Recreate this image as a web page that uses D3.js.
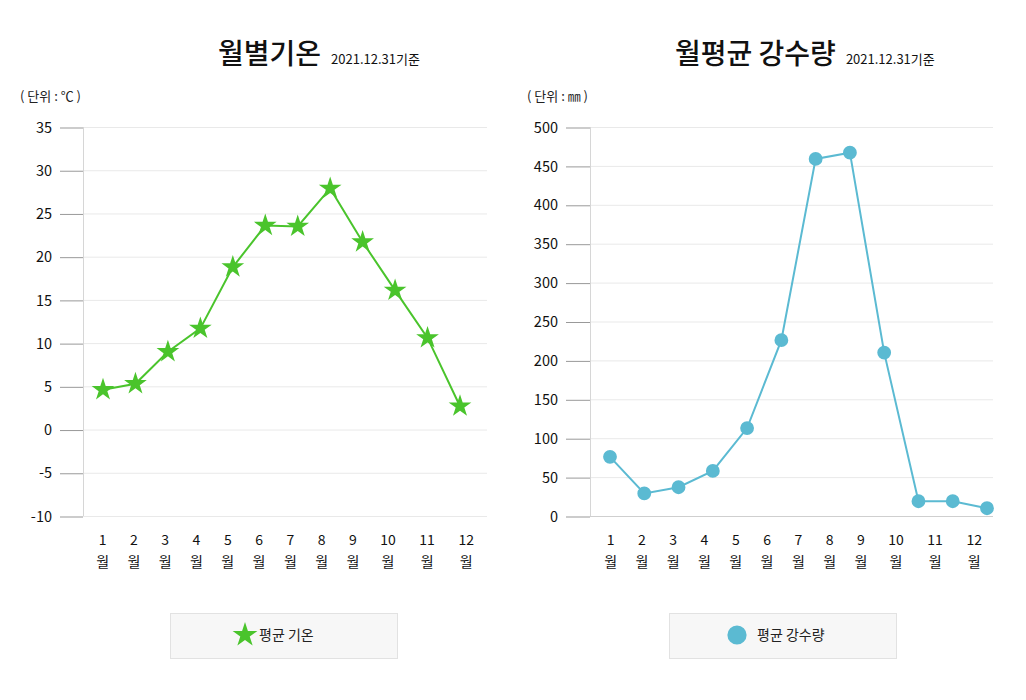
<!DOCTYPE html>
<html><head><meta charset="utf-8">
<script src="https://cdn.jsdelivr.net/npm/d3@7"></script>
<style>
html,body{margin:0;padding:0;background:#fff;}
svg text{font-family:"Noto Sans CJK KR","Noto Sans",sans-serif;}
</style></head>
<body><svg id="c" width="1026" height="700"></svg>
<script>
const months = ["1","2","3","4","5","6","7","8","9","10","11","12"];
const monthSuffix = "월";
const tempValues = [4.6, 5.3, 9.0, 11.7, 18.8, 23.6, 23.5, 27.9, 21.7, 16.1, 10.6, 2.7];
const rainValues = [76, 29, 37, 58, 113, 226, 459, 467, 210, 19, 19, 10];
const tempTicks = [35, 30, 25, 20, 15, 10, 5, 0, -5, -10];
const rainTicks = [500, 450, 400, 350, 300, 250, 200, 150, 100, 50, 0];
const titles = ["월별기온", "월평균 강수량"];
const subtitle = "2021.12.31기준";
const units = ["( 단위 : ℃ )", "( 단위 : ㎜ )"];
const legendNames = ["평균 기온", "평균 강수량"];

const svg = d3.select("#c");

function drawChart(opt){
  const g = svg.append("g");
  const y = d3.scaleLinear().domain(opt.domain).range([516, 127]);
  const x = d3.scaleLinear().domain([0, months.length-1]).range(opt.xRange);

  const t = g.append("text").attr("x", opt.titleX).attr("y", 64)
    .attr("font-size", 28).attr("font-weight", 500).attr("fill", "#111").text(opt.title);
  t.append("tspan").attr("dx", 10).attr("font-size", 13).attr("font-weight", 400).text(subtitle);

  g.append("text").attr("x", opt.unitX).attr("y", 101).attr("font-size", 13)
    .attr("fill", "#222").text(opt.unit);

  g.selectAll(".grid").data(opt.ticks).join("line")
    .attr("x1", opt.axisX).attr("x2", opt.gridEnd)
    .attr("y1", d => y(d)+0.5).attr("y2", d => y(d)+0.5)
    .attr("stroke", d => (d === opt.domain[0] && opt.darkBase) ? "#cfcfcf" : "#e9e9e9").attr("stroke-width", 1);
  const ax = d3.axisLeft(y).tickValues(opt.ticks).tickSize(opt.axisX - opt.tickStart).tickPadding(8);
  const ag = g.append("g").attr("transform", `translate(${opt.axisX},0.5)`).call(ax);
  ag.select(".domain").remove();
  ag.selectAll(".tick line").attr("stroke", "#999");
  ag.selectAll(".tick text").attr("font-size", 14.5).attr("fill", "#111")
    .attr("font-family", '"Noto Sans CJK KR",sans-serif')
    .text(d => d < 0 ? "-" + Math.abs(d) : d);
  g.append("line").attr("x1", opt.axisX+0.5).attr("x2", opt.axisX+0.5)
    .attr("y1", 127).attr("y2", 516).attr("stroke", "#d6d6d6");

  const lg = g.append("g");
  let cursor = opt.labelStart;
  months.forEach((m) => {
    const item = lg.append("g");
    const num = item.append("text").attr("y", 545).attr("font-size", 14).attr("fill", "#111")
      .attr("text-anchor", "middle").text(m);
    const w = num.node().getComputedTextLength() + 23.5;
    const cx = cursor + w/2;
    cursor += w;
    num.attr("x", cx);
    item.append("text").attr("x", cx).attr("y", 567).attr("font-size", 14).attr("fill", "#111")
      .attr("text-anchor", "middle").text(monthSuffix);
  });

  const line = d3.line().x((d,i) => x(i)).y(d => y(d));
  g.append("path").datum(opt.values).attr("d", line)
    .attr("fill", "none").attr("stroke", opt.color).attr("stroke-width", 2);
  g.selectAll(".pt").data(opt.values).join("path")
    .attr("transform", (d,i) => `translate(${x(i)},${y(d)})`)
    .attr("d", d3.symbol().type(opt.symbol).size(opt.symbolSize))
    .attr("fill", opt.color);

  const lx = opt.legendX;
  g.append("rect").attr("x", lx+0.5).attr("y", 613.5).attr("width", 227).attr("height", 45)
    .attr("fill", "#f7f7f7").attr("stroke", "#e2e2e2");
  g.append("path").attr("transform", `translate(${opt.legendSymX},635)`)
    .attr("d", d3.symbol().type(opt.symbol).size(opt.legendSymSize)).attr("fill", opt.color);
  g.append("text").attr("x", opt.legendTextX).attr("y", 640).attr("font-size", 14)
    .attr("fill", "#222").text(opt.legendName);
}

drawChart({
  title: titles[0], titleX: 218, unit: units[0], unitX: 20,
  domain: [-10, 35], ticks: tempTicks, axisX: 83, gridEnd: 487, tickStart: 60,
  xRange: [103, 460], labelStart: 87, values: tempValues, color: "#4ac42c",
  symbol: d3.symbolStar, symbolSize: 160, darkBase: false,
  legendX: 170, legendSymX: 245, legendSymSize: 190, legendTextX: 259, legendName: legendNames[0]
});
drawChart({
  title: titles[1], titleX: 675, unit: units[1], unitX: 527,
  domain: [0, 500], ticks: rainTicks, axisX: 590, gridEnd: 993, tickStart: 566,
  xRange: [610, 987], labelStart: 595, values: rainValues, color: "#5bbad2",
  symbol: d3.symbolCircle, symbolSize: 150, darkBase: true,
  legendX: 669, legendSymX: 737, legendSymSize: 290, legendTextX: 757, legendName: legendNames[1]
});
</script></body></html>
